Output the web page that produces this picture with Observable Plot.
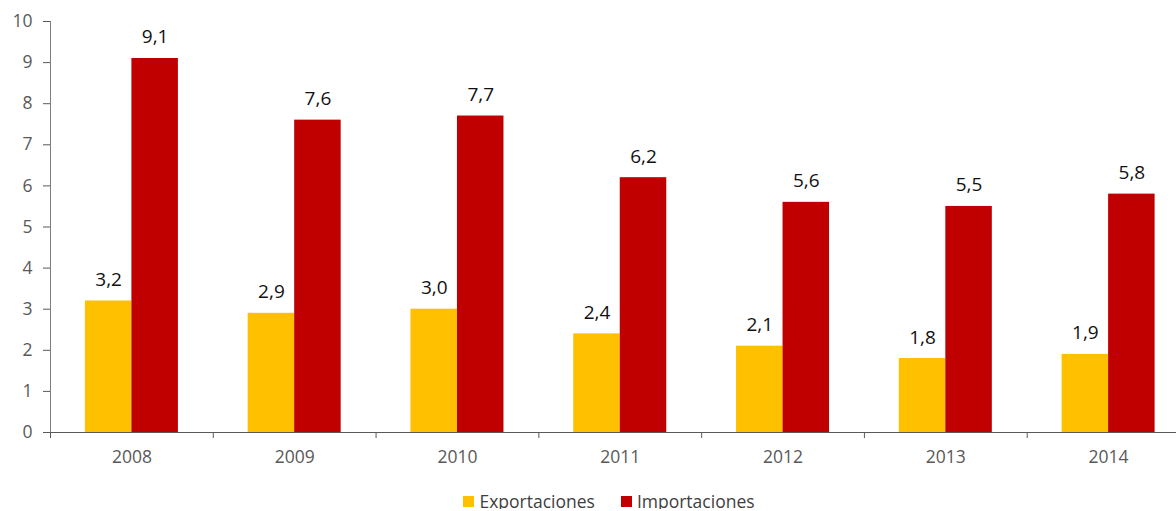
<!DOCTYPE html>
<html>
<head>
<meta charset="utf-8">
<script src="https://cdn.jsdelivr.net/npm/d3@7"></script>
<script src="https://cdn.jsdelivr.net/npm/@observablehq/plot@0.6"></script>
<style>
  body { margin: 0; background: #fff; font-family: "Open Sans", sans-serif; overflow: hidden; }
  #legend { display: flex; justify-content: center; gap: 26px; margin-top: 22px; padding-left: 42px;
            font-size: 17.5px; color: #404040; line-height: 16px; height: 16px; }
  #legend span.item { display: flex; align-items: center; gap: 5px; }
  #legend span.sw { display: inline-block; width: 11px; height: 11px; }
</style>
</head>
<body>
<div id="chart"></div>
<script>
const years = ["2008", "2009", "2010", "2011", "2012", "2013", "2014"];
const exportaciones = [3.2, 2.9, 3.0, 2.4, 2.1, 1.8, 1.9];
const importaciones = [9.1, 7.6, 7.7, 6.2, 5.6, 5.5, 5.8];
const seriesNames = ["Exportaciones", "Importaciones"];
const seriesColors = ["#FFC000", "#C00000"];
const yTicks = [0, 1, 2, 3, 4, 5, 6, 7, 8, 9, 10];

const W = 1176, H = 471, mTop = 21, mBottom = 39, mLeft = 50;
const xRange = [50, 1189.5];
const step = (xRange[1] - xRange[0]) / years.length;
const half = step / 2;
const barW = 46.5;

const expData = years.map((y, i) => ({year: y, value: exportaciones[i]}));
const impData = years.map((y, i) => ({year: y, value: importaciones[i]}));
const fmt = v => v.toFixed(1).replace(".", ",");

const chart = Plot.plot({
  width: W,
  height: H,
  marginTop: mTop,
  marginBottom: mBottom,
  marginLeft: mLeft,
  marginRight: 0,
  style: {fontFamily: "Open Sans", fontSize: "17.5px", color: "#595959", background: "#fff", overflow: "visible"},
  x: {domain: years, range: xRange, padding: 0, round: false, label: null},
  y: {domain: [0, 10], label: null},
  marks: [
    Plot.barY(expData, {x: "year", y: "value", fill: seriesColors[0],
      insetLeft: half - barW, insetRight: half}),
    Plot.barY(impData, {x: "year", y: "value", fill: seriesColors[1],
      insetLeft: half, insetRight: half - barW}),
    Plot.text(expData, {x: "year", y: "value", text: d => fmt(d.value), dx: -barW / 2, dy: -15,
      lineAnchor: "bottom", fill: "#111", fontSize: 19}),
    Plot.text(impData, {x: "year", y: "value", text: d => fmt(d.value), dx: barW / 2, dy: -15,
      lineAnchor: "bottom", fill: "#111", fontSize: 19}),
    Plot.axisY({ticks: yTicks, tickSize: 7, tickPadding: 11, tickFormat: d => String(d), label: null}),
    Plot.axisX({tickSize: 0, tickPadding: 18, label: null}),
    // y axis line
    Plot.ruleX([years[0]], {x: d => d, dx: -half, stroke: "#7f7f7f"}),
    // x-axis boundary ticks
    Plot.ruleX(years, {x: d => d, dx: -half, stroke: "#595959",
      insetTop: H - mTop - mBottom, insetBottom: -6}),
    Plot.ruleY([0], {stroke: "#595959"})
  ]
});
document.getElementById("chart").append(chart);

const legend = document.createElement("div");
legend.id = "legend";
seriesNames.forEach((name, i) => {
  const item = document.createElement("span");
  item.className = "item";
  const sw = document.createElement("span");
  sw.className = "sw";
  sw.style.background = seriesColors[i];
  item.append(sw, document.createTextNode(name));
  legend.append(item);
});
document.body.append(legend);
</script>
</body>
</html>
